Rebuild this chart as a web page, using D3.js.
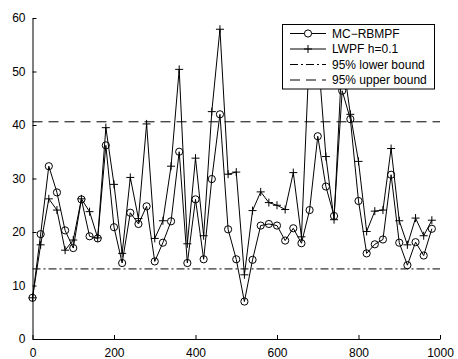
<!DOCTYPE html>
<html>
<head>
<meta charset="utf-8">
<script src="https://cdn.jsdelivr.net/npm/d3@7"></script>
<style>
html,body{margin:0;padding:0;background:#fff;}
svg{display:block;}
text{font-family:"Liberation Sans",Arial,Helvetica,sans-serif;font-size:12px;fill:#000;}
</style>
</head>
<body>
<svg id="chart" width="458" height="359"></svg>
<script>
const xs = d3.range(0, 1000, 20);
const mcRbmpf = [7.7,19.6,32.3,27.4,20.3,17.0,26.1,19.2,18.8,36.2,
  20.9,14.2,23.6,21.5,24.8,14.5,18.0,22.0,35.0,14.2,
  26.1,14.9,29.9,42.0,20.5,14.9,7.0,14.8,21.2,21.5,
  21.2,18.4,20.7,17.9,24.1,37.9,28.5,23.0,46.4,41.1,
  25.8,16.0,17.7,18.6,30.7,18.0,13.8,18.1,15.6,20.6];
const lwpf = [7.7,17.6,26.2,24.1,16.6,18.5,26.2,23.8,18.9,39.5,
  28.9,16.0,30.2,22.5,40.2,18.8,22.1,32.3,50.4,17.8,
  33.8,19.3,42.5,57.9,30.8,31.2,12.0,24.0,27.5,25.5,
  25.0,24.2,31.1,19.1,54.5,54.0,34.1,22.3,53.0,42.0,
  33.2,20.1,23.9,24.1,35.6,22.1,17.6,22.6,19.3,22.2];
const lowerBound = 13.1;
const upperBound = 40.6;
const xTicks = [0,200,400,600,800,1000];
const yTicks = [0,10,20,30,40,50,60];
const legendLabels = ["MC\u2212RBMPF","LWPF h=0.1","95% lower bound","95% upper bound"];

const svg = d3.select("#chart");
const x = d3.scaleLinear().domain([0,1000]).range([32.5,440]);
const y = d3.scaleLinear().domain([0,60]).range([339,18]);

// bounds
const bounds = [
  {v: lowerBound, dash: "8,3,2,3"},
  {v: upperBound, dash: "10,6"}
];
svg.selectAll("line.bound").data(bounds).join("line")
  .attr("class","bound")
  .attr("x1", x(0)).attr("x2", x(1000))
  .attr("y1", d=>y(d.v)).attr("y2", d=>y(d.v))
  .attr("stroke","#000").attr("stroke-width",1)
  .attr("stroke-dasharray", d=>d.dash);

const line = d3.line().x(d=>x(d[0])).y(d=>y(d[1]));
const mcData = xs.map((v,i)=>[v,mcRbmpf[i]]);
const lwData = xs.map((v,i)=>[v,lwpf[i]]);

svg.append("path").datum(mcData).attr("d",line)
  .attr("fill","none").attr("stroke","#000").attr("stroke-width",1);
svg.selectAll("circle.mc").data(mcData).join("circle")
  .attr("class","mc").attr("cx",d=>x(d[0])).attr("cy",d=>y(d[1]))
  .attr("r",3.6).attr("fill","none").attr("stroke","#000").attr("stroke-width",1);

svg.append("path").datum(lwData).attr("d",line)
  .attr("fill","none").attr("stroke","#000").attr("stroke-width",1);
const plus = (g, cx, cy, s) => {
  g.append("line").attr("x1",cx-s).attr("x2",cx+s).attr("y1",cy).attr("y2",cy)
    .attr("stroke","#000").attr("stroke-width",1);
  g.append("line").attr("x1",cx).attr("x2",cx).attr("y1",cy-s).attr("y2",cy+s)
    .attr("stroke","#000").attr("stroke-width",1);
};
const pg = svg.append("g");
lwData.forEach(d=>plus(pg, x(d[0]), y(d[1]), 4));

// axes
const xAxis = d3.axisBottom(x).tickValues(xTicks).tickFormat(d3.format("d"))
  .tickSizeInner(-4).tickSizeOuter(0).tickPadding(9);
const yAxis = d3.axisLeft(y).tickValues(yTicks).tickFormat(d3.format("d"))
  .tickSizeInner(-4).tickSizeOuter(0).tickPadding(7);
const gx = svg.append("g").attr("transform",`translate(0,${y(0)})`).call(xAxis);
const gy = svg.append("g").attr("transform",`translate(${x(0)},0)`).call(yAxis);
[gx,gy].forEach(g=>{
  g.select(".domain").attr("stroke","#000").attr("stroke-width",1);
  g.selectAll(".tick line").attr("stroke","#000").attr("stroke-width",1);
  g.selectAll(".tick text").attr("font-family","'Liberation Sans',Arial,sans-serif")
    .attr("font-size",12).attr("fill","#000");
});

// legend
const lg = svg.append("g");
lg.append("rect").attr("x",282.5).attr("y",24.5).attr("width",152).attr("height",64.5)
  .attr("fill","#fff").attr("stroke","#000").attr("stroke-width",1);
const rowsY = [33.5,49,64.5,80];
const lx1 = 290, lx2 = 326, lmid = 308;
lg.append("line").attr("x1",lx1).attr("x2",lx2).attr("y1",rowsY[0]).attr("y2",rowsY[0]).attr("stroke","#000");
lg.append("circle").attr("cx",lmid).attr("cy",rowsY[0]).attr("r",3.6).attr("fill","#fff").attr("stroke","#000");
lg.append("line").attr("x1",lx1).attr("x2",lx2).attr("y1",rowsY[1]).attr("y2",rowsY[1]).attr("stroke","#000");
plus(lg, lmid, rowsY[1], 4);
lg.append("line").attr("x1",lx1).attr("x2",lx2).attr("y1",rowsY[2]).attr("y2",rowsY[2])
  .attr("stroke","#000").attr("stroke-dasharray","8,3,2,3");
lg.append("line").attr("x1",lx1).attr("x2",lx2).attr("y1",rowsY[3]).attr("y2",rowsY[3])
  .attr("stroke","#000").attr("stroke-dasharray","10,6");
lg.selectAll("text.lab").data(legendLabels).join("text").attr("class","lab")
  .attr("x",332).attr("y",(d,i)=>rowsY[i]).attr("dy","0.35em").text(d=>d);
</script>
</body>
</html>
